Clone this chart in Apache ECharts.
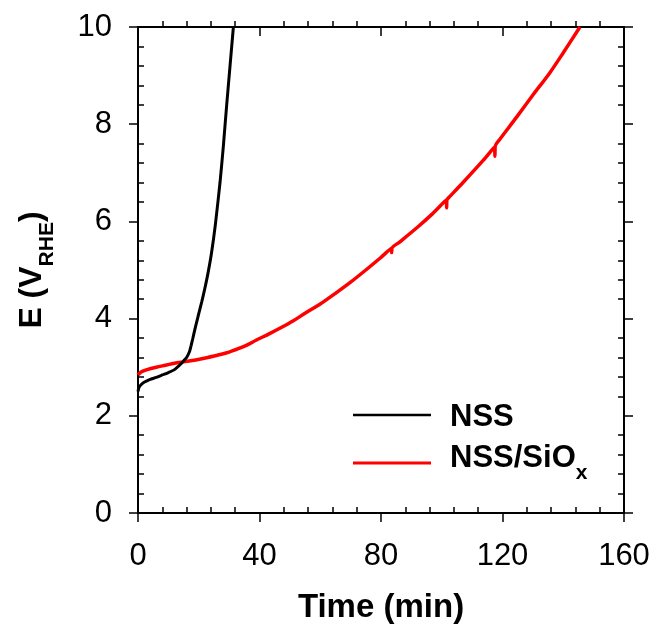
<!DOCTYPE html>
<html>
<head>
<meta charset="utf-8">
<script src="https://cdn.jsdelivr.net/npm/echarts@6/dist/echarts.min.js"></script>
<style>
  html, body { margin: 0; padding: 0; background: #fff; }
  #chart { width: 655px; height: 634px; }
</style>
</head>
<body>
<div id="chart"></div>
<script>
// ---- Data ----
var xTicks = [0, 40, 80, 120, 160];
var yTicks = [0, 2, 4, 6, 8, 10];

var nssTime = [0, 0.3, 1, 2, 4, 6, 8, 10, 12, 14, 15, 16, 17, 17.5, 18, 19, 20, 21, 22, 23, 24.2, 25.5, 27, 28.1, 29.2, 30.3, 31.4];
var nssE    = [2.50, 2.58, 2.64, 2.69, 2.75, 2.79, 2.84, 2.89, 2.95, 3.06, 3.13, 3.20, 3.33, 3.45, 3.58, 3.85, 4.10, 4.35, 4.62, 4.92, 5.35, 5.95, 6.80, 7.55, 8.40, 9.20, 10.0];

var sioTime = [0, 1, 3, 6, 9, 12, 15, 19, 23, 27, 30, 33, 36, 39, 43, 47, 51, 55, 60, 65, 70, 75, 80, 83.4, 83.5, 83.6, 86, 92, 97, 101.5, 101.6, 101.7, 102, 107, 113.7, 117.4, 117.5, 117.6, 119, 124.7, 130, 135.6, 140, 145.5];
var sioE    = [2.84, 2.90, 2.95, 3.00, 3.04, 3.08, 3.11, 3.15, 3.20, 3.26, 3.31, 3.38, 3.46, 3.56, 3.68, 3.81, 3.95, 4.11, 4.30, 4.52, 4.75, 5.00, 5.26, 5.44, 5.36, 5.45, 5.57, 5.88, 6.16, 6.44, 6.28, 6.45, 6.47, 6.80, 7.26, 7.53, 7.34, 7.55, 7.68, 8.15, 8.60, 9.06, 9.47, 10.0];

function pairs(xs, ys) { return xs.map(function (x, i) { return [x, ys[i]]; }); }

var FONT = "'Liberation Sans', Arial, Helvetica, sans-serif";
var AXC = '#000';

function xAxisDef(pos, kind) {
  var major = kind === 'major';
  var inside = (pos === 'top') ? major : !major; // top: major inside, minor outside; bottom: major outside, minor inside
  return {
    type: 'value', position: pos, min: 0, max: 160, interval: 40,
    axisLine: { show: major, onZero: false, lineStyle: { color: AXC, width: 2 } },
    axisTick: { show: major, inside: inside, length: 9, lineStyle: { color: AXC, width: 1.5 } },
    minorTick: { show: !major, splitNumber: 5, length: 6, lineStyle: { color: AXC, width: 1.5 } },
    axisLabel: { show: major && pos === 'bottom', color: '#000', fontSize: 31, fontFamily: FONT, margin: 28,
      formatter: function (v) { return xTicks.indexOf(v) >= 0 ? String(v) : ''; } },
    splitLine: { show: false }, minorSplitLine: { show: false },
    name: (major && pos === 'bottom') ? 'Time (min)' : '',
    nameLocation: 'middle', nameGap: 78,
    nameTextStyle: { color: '#000', fontSize: 33, fontWeight: 'bold', fontFamily: FONT }
  };
}

function yAxisDef(pos, kind) {
  var major = kind === 'major';
  var inside = !major; // both sides: major outside, minor inside
  return {
    type: 'value', position: pos, min: 0, max: 10, interval: 2,
    axisLine: { show: major, onZero: false, lineStyle: { color: AXC, width: 2 } },
    axisTick: { show: major, inside: inside, length: 9, lineStyle: { color: AXC, width: 1.5 } },
    minorTick: { show: !major, splitNumber: 5, length: 6, lineStyle: { color: AXC, width: 1.5 } },
    axisLabel: { show: major && pos === 'left', color: '#000', fontSize: 31, fontFamily: FONT, margin: 26,
      formatter: function (v) { return yTicks.indexOf(v) >= 0 ? String(v) : ''; } },
    splitLine: { show: false }, minorSplitLine: { show: false },
    name: (major && pos === 'left') ? 'E (V{s|RHE})' : '',
    nameLocation: 'middle', nameGap: 90, nameRotate: 90,
    nameTextStyle: {
      color: '#000', fontSize: 32, fontWeight: 'bold', fontFamily: FONT,
      rich: {
        s: { fontSize: 21, fontWeight: 'bold', fontFamily: FONT, color: '#000', verticalAlign: 'top', padding: [21, 0, 0, 0], lineHeight: 21 }
      }
    }
  };
}

var chart = echarts.init(document.getElementById('chart'), null, { renderer: 'canvas' });
chart.setOption({
  animation: false,
  backgroundColor: '#fff',
  grid: { left: 138, top: 27, width: 486, height: 486, containLabel: false },
  xAxis: [xAxisDef('bottom', 'major'), xAxisDef('bottom', 'minor'), xAxisDef('top', 'major'), xAxisDef('top', 'minor')],
  yAxis: [yAxisDef('left', 'major'), yAxisDef('left', 'minor'), yAxisDef('right', 'major'), yAxisDef('right', 'minor')],
  series: [
    { name: 'NSS', type: 'line', data: pairs(nssTime, nssE), showSymbol: false, smooth: 0.2,
      lineStyle: { color: '#000', width: 3 }, itemStyle: { color: '#000' }, z: 3 },
    { name: 'NSS/SiOx', type: 'line', data: pairs(sioTime, sioE), showSymbol: false, smooth: 0.3,
      lineStyle: { color: '#ff0000', width: 3.5 }, itemStyle: { color: '#ff0000' }, z: 2 }
  ],
  graphic: [
    { type: 'line', shape: { x1: 353, y1: 415, x2: 431, y2: 415 }, style: { stroke: '#000', lineWidth: 2.5 } },
    { type: 'text', left: 450, top: 402, style: { text: 'NSS', fill: '#000', font: 'bold 31px ' + FONT } },
    { type: 'line', shape: { x1: 353, y1: 463, x2: 431, y2: 463 }, style: { stroke: '#ff0000', lineWidth: 3 } },
    { type: 'text', left: 450, top: 443, style: {
        text: 'NSS/SiO{s|x}', fill: '#000', font: 'bold 31px ' + FONT,
        rich: { s: { font: 'bold 21px ' + FONT, fill: '#000', verticalAlign: 'top', padding: [20, 0, 0, 0], lineHeight: 21 } }
    } }
  ]
});
</script>
</body>
</html>
